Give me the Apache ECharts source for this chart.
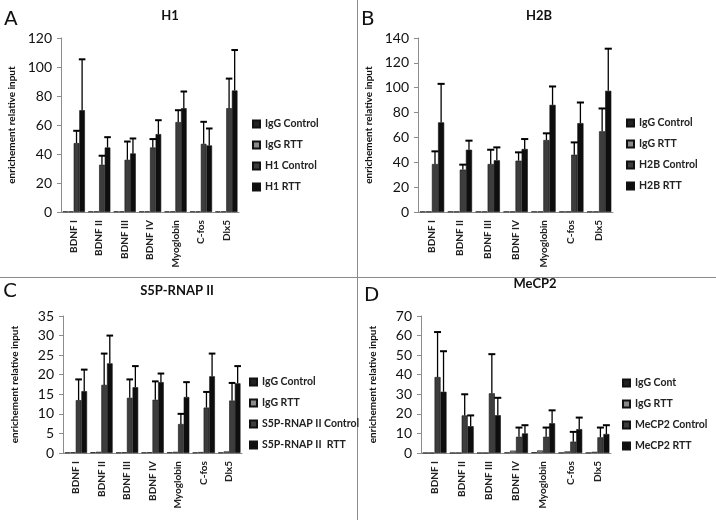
<!DOCTYPE html>
<html>
<head>
<meta charset="utf-8">
<title>ChIP enrichment</title>
<script src="https://cdn.jsdelivr.net/npm/echarts@6/dist/echarts.min.js"></script>
<style>
  html, body { margin: 0; padding: 0; background: #fff; }
  #main { width: 716px; height: 520px; }
</style>
</head>
<body>
<div id="main"></div>
<script type="text/javascript">
// categories shared by all four panels
var categories = ['BDNF I', 'BDNF II', 'BDNF III', 'BDNF IV', 'Myoglobin', 'C-fos', 'Dlx5'];

// A - H1
var h1Names = ['IgG Control', 'IgG RTT', 'H1 Control', 'H1 RTT'];
var h1IgGControl = [0.4, 0.4, 0.4, 0.4, 0.4, 0.4, 0.4];
var h1IgGRTT = [0.4, 0.4, 0.4, 0.4, 0.4, 0.4, 0.4];
var h1Control = [47.5, 32.6, 36, 44.5, 62, 47, 71.6];
var h1ControlSd = [8.5, 6.2, 12.6, 5.8, 8.2, 15.2, 20.4];
var h1RTT = [70.2, 44.5, 40.4, 53.7, 71.6, 45.9, 83.8];
var h1RTTSd = [35.1, 7.1, 10.3, 9.6, 11.5, 11.7, 27.9];

// B - H2B
var h2bNames = ['IgG Control', 'IgG RTT', 'H2B Control', 'H2B RTT'];
var h2bIgGControl = [0.4, 0.4, 0.4, 0.4, 0.4, 0.4, 0.4];
var h2bIgGRTT = [0.4, 0.4, 0.4, 0.4, 0.4, 0.4, 0.4];
var h2bControl = [38.6, 34.1, 38.6, 41.3, 57.9, 46.1, 64.9];
var h2bControlSd = [10.2, 4, 11.5, 6.7, 5.4, 9.9, 18.4];
var h2bRTT = [72.1, 50.1, 41.6, 50.7, 86.2, 71.5, 97.5];
var h2bRTTSd = [31, 7.3, 10.4, 8, 14.8, 16.6, 33.9];

// C - S5P-RNAP II
var polNames = ['IgG Control', 'IgG RTT', 'S5P-RNAP II Control', 'S5P-RNAP II  RTT'];
var polIgGControl = [0.15, 0.2, 0.15, 0.15, 0.2, 0.15, 0.15];
var polIgGRTT = [0.2, 0.3, 0.2, 0.2, 0.3, 0.25, 0.4];
var polControl = [13.5, 17.4, 14.1, 13.6, 7.4, 11.6, 13.4];
var polControlSd = [5.3, 8, 4.7, 4.7, 2.6, 4, 4.5];
var polRTT = [15.8, 22.9, 16.8, 18.1, 14.3, 19.6, 17.8];
var polRTTSd = [5.5, 7.1, 5.4, 2.2, 3.8, 5.8, 4.4];

// D - MeCP2
var mecpNames = ['IgG Cont', 'IgG RTT', 'MeCP2 Control', 'MeCP2 RTT'];
var mecpIgGControl = [0.1, 0.1, 0.1, 0.3, 0.4, 0.2, 0.2];
var mecpIgGRTT = [0.1, 0.1, 0.1, 1.2, 1.3, 0.8, 0.6];
var mecpControl = [38.8, 19.2, 30.5, 8.3, 8.3, 5.8, 8];
var mecpControlSd = [23, 10.8, 20, 4.7, 4.7, 5, 5];
var mecpRTT = [31.3, 13.7, 19.3, 10, 15.2, 12.2, 9.7];
var mecpRTTSd = [20.7, 5.5, 8.9, 4.2, 6.6, 5.9, 4.5];

var barColors = ['#222222', '#8a8a8a', '#3d3d3d', '#0e0e0e'];
var FONT = 'Lato, "Open Sans", sans-serif';
var GAP = 0.12; // barCategoryGap

var option = {
    animation: false,
    backgroundColor: '#fff',
    grid: [], xAxis: [], yAxis: [], series: [], legend: [],
    graphic: []
};

// error bar drawn above the bar in the given slot (0..3)
function errorRender(slot) {
    return function (params, api) {
        var cat = api.value(0);
        var base = api.coord([cat, api.value(1)]);
        var tip = api.coord([cat, api.value(1) + api.value(2)]);
        var band = api.size([1, 0])[0];
        var w = band * (1 - GAP) / 4;
        var x = base[0] - 2 * w + (slot + 0.5) * w;
        return {
            type: 'group',
            children: [
                { type: 'line', shape: { x1: x, y1: base[1], x2: x, y2: tip[1] },
                  style: { stroke: '#000', lineWidth: 1.3 } },
                { type: 'line', shape: { x1: x - w / 2 - 0.5, y1: tip[1], x2: x + w / 2 + 0.5, y2: tip[1] },
                  style: { stroke: '#000', lineWidth: 2 } }
            ]
        };
    };
}

function addPanel(idx, p) {
    option.grid.push({ left: p.left, top: p.top, width: p.width, height: p.height });
    option.xAxis.push({
        type: 'category', gridIndex: idx, data: categories,
        axisLine: { lineStyle: { color: '#8c8c8c' } },
        axisTick: { length: 4, lineStyle: { color: '#8c8c8c' } },
        axisLabel: { rotate: 90, interval: 0, margin: 8, fontSize: 10, fontWeight: 'bold',
                     fontFamily: FONT, color: '#222' }
    });
    option.yAxis.push({
        type: 'value', gridIndex: idx, min: 0, max: p.max, interval: p.step,
        name: 'enrichement relative input', nameLocation: 'middle', nameGap: p.nameGap,
        nameTextStyle: { fontSize: 10, fontWeight: 'bold', fontFamily: FONT, color: '#111' },
        axisLine: { show: true, lineStyle: { color: '#8c8c8c' } },
        axisTick: { show: true, length: 4, lineStyle: { color: '#8c8c8c' } },
        axisLabel: { fontSize: 14, fontFamily: FONT, color: '#111', margin: 9 },
        splitLine: { show: false }
    });
    var vals = [p.igc, p.igr, p.ctl, p.rtt];
    for (var i = 0; i < 4; i++) {
        option.series.push({
            type: 'bar', name: p.names[i], xAxisIndex: idx, yAxisIndex: idx,
            data: vals[i], barGap: '0%', barCategoryGap: (GAP * 100) + '%',
            itemStyle: { color: barColors[i], borderColor: '#111', borderWidth: 0.6 }
        });
    }
    var sds = [p.ctlSd, p.rttSd];
    for (var j = 0; j < 2; j++) {
        var d = [];
        for (var k = 0; k < categories.length; k++) d.push([k, vals[j + 2][k], sds[j][k]]);
        option.series.push({
            type: 'custom', name: p.names[j + 2] + ' err', xAxisIndex: idx, yAxisIndex: idx,
            renderItem: errorRender(j + 2), data: d, z: 5, silent: true
        });
    }
    option.legend.push({
        data: p.names, orient: 'vertical', left: p.legLeft, top: p.legTop,
        icon: 'rect', itemWidth: 7, itemHeight: 7, itemGap: 9, padding: 0,
        textStyle: { fontSize: 10.5, fontWeight: 'bold', fontFamily: FONT, color: '#222', lineHeight: 12 }
    });
    option.graphic.push({
        type: 'text', style: { text: p.letter, x: p.letterX, y: p.letterY, font: '20px "DejaVu Sans"',
                               fill: '#111', textVerticalAlign: 'middle' }
    });
    option.graphic.push({
        type: 'text', style: { text: p.title, x: p.titleX, y: p.titleY, font: 'bold 13px ' + FONT,
                               fill: '#111', textAlign: 'center', textVerticalAlign: 'middle' }
    });
}

addPanel(0, { left: 61, top: 38, width: 178, height: 174, max: 120, step: 20, nameGap: 44,
    names: h1Names, igc: h1IgGControl, igr: h1IgGRTT, ctl: h1Control, rtt: h1RTT,
    ctlSd: h1ControlSd, rttSd: h1RTTSd, legLeft: 252, legTop: 118,
    letter: 'A', letterX: 4, letterY: 20, title: 'H1', titleX: 170, titleY: 16 });

addPanel(1, { left: 418, top: 38, width: 195, height: 174, max: 140, step: 20, nameGap: 44,
    names: h2bNames, igc: h2bIgGControl, igr: h2bIgGRTT, ctl: h2bControl, rtt: h2bRTT,
    ctlSd: h2bControlSd, rttSd: h2bRTTSd, legLeft: 626, legTop: 117,
    letter: 'B', letterX: 361, letterY: 20, title: 'H2B', titleX: 539, titleY: 16 });

addPanel(2, { left: 63, top: 316, width: 179, height: 137, max: 35, step: 5, nameGap: 43,
    names: polNames, igc: polIgGControl, igr: polIgGRTT, ctl: polControl, rtt: polRTT,
    ctlSd: polControlSd, rttSd: polRTTSd, legLeft: 249, legTop: 376,
    letter: 'C', letterX: 3, letterY: 292, title: 'S5P-RNAP II', titleX: 177, titleY: 291 });

addPanel(3, { left: 421, top: 316, width: 190, height: 137, max: 70, step: 10, nameGap: 43,
    names: mecpNames, igc: mecpIgGControl, igr: mecpIgGRTT, ctl: mecpControl, rtt: mecpRTT,
    ctlSd: mecpControlSd, rttSd: mecpRTTSd, legLeft: 622, legTop: 377,
    letter: 'D', letterX: 364, letterY: 296, title: 'MeCP2', titleX: 535, titleY: 284 });

// panel dividers
option.graphic.push({ type: 'line', shape: { x1: 357.5, y1: 0, x2: 357.5, y2: 520 },
    style: { stroke: '#8c8c8c', lineWidth: 1 } });
option.graphic.push({ type: 'line', shape: { x1: 0, y1: 277.5, x2: 716, y2: 277.5 },
    style: { stroke: '#8c8c8c', lineWidth: 1 } });

var myChart = echarts.init(document.getElementById('main'), null, { renderer: 'canvas' });
myChart.setOption(option);
</script>
</body>
</html>
